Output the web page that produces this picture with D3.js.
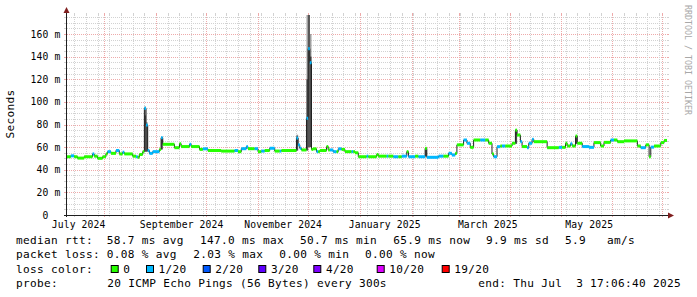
<!DOCTYPE html>
<html>
<head>
<meta charset="utf-8">
<script src="https://cdn.jsdelivr.net/npm/d3@7"></script>
<style>
body { margin: 0; background: #fff; }
svg text { font-family: "DejaVu Sans Mono", monospace; white-space: pre; }
</style>
</head>
<body>
<svg></svg>
<script>
var width = 697;
var height = 297;

// time range of the graph
var startTime = "2024-07-09T17:06:40";
var endTime = "2025-07-03T17:06:40";
var yMaxMs = 176.8;

// median rtt per step (ms) and loss class (index into lossColors)
var medianDays = [
  "2024-07-09","2024-07-12","2024-07-14","2024-07-16","2024-07-20","2024-07-25","2024-07-26","2024-07-28",
  "2024-07-31","2024-08-02","2024-08-03","2024-08-05","2024-08-08","2024-08-10","2024-08-12","2024-08-13",
  "2024-08-18","2024-08-20","2024-08-21","2024-08-22","2024-08-24","2024-08-25","2024-08-26","2024-08-27",
  "2024-08-28","2024-08-30","2024-09-03","2024-09-04","2024-09-05","2024-09-12","2024-09-15","2024-09-16",
  "2024-09-21","2024-09-22","2024-09-27","2024-09-29","2024-10-02","2024-10-10","2024-10-18","2024-10-20",
  "2024-10-22","2024-10-25","2024-10-26","2024-10-30","2024-11-01","2024-11-03","2024-11-05","2024-11-08",
  "2024-11-11","2024-11-14","2024-11-15","2024-11-24","2024-11-25","2024-11-26","2024-11-27","2024-11-30",
  "2024-12-01","2024-12-02","2024-12-03","2024-12-04","2024-12-06","2024-12-07","2024-12-08","2024-12-12",
  "2024-12-13","2024-12-14","2024-12-16","2024-12-18","2024-12-19","2024-12-21","2024-12-23","2024-12-27",
  "2024-12-28","2024-12-29","2024-12-31","2025-01-05","2025-01-06","2025-01-11","2025-01-12","2025-01-17",
  "2025-01-18","2025-01-21","2025-01-24","2025-01-26","2025-01-29","2025-01-30","2025-02-03","2025-02-05",
  "2025-02-09","2025-02-10","2025-02-17","2025-02-20","2025-02-23","2025-02-25","2025-02-27","2025-02-28",
  "2025-03-04","2025-03-06","2025-03-08","2025-03-10","2025-03-14","2025-03-17","2025-03-19","2025-03-21",
  "2025-03-22","2025-03-24","2025-03-26","2025-03-27","2025-03-29","2025-04-02","2025-04-04","2025-04-05",
  "2025-04-07","2025-04-08","2025-04-11","2025-04-12","2025-04-14","2025-04-15","2025-04-23","2025-04-30",
  "2025-05-02","2025-05-04","2025-05-05","2025-05-07","2025-05-08","2025-05-10","2025-05-11","2025-05-14",
  "2025-05-18","2025-05-21","2025-05-25","2025-05-27","2025-05-31","2025-06-02","2025-06-04","2025-06-08",
  "2025-06-16","2025-06-18","2025-06-21","2025-06-23","2025-06-24","2025-06-26","2025-06-30","2025-07-02"
];
var medianMs = [
  51.5,52.3,51.5,50.3,51.5,54,52,50.1,
  51.5,54,56,54.5,57,54,55.5,54,
  52,51.5,51,53.5,56,94.3,79.5,57,
  54.5,56,58,68.3,62.5,59.5,63,60.5,
  62.5,60.5,58,58.5,57,56.5,57,56,
  58.6,60.4,58.6,58.6,56,56.5,57,59,
  56.5,56.5,57,68,62,59,57.5,85.5,
  147,134.6,58,58.5,56,56,57,60.5,
  57.5,57.5,56,56,58.5,58,56,56,
  56,55,51.5,52,51.5,53.5,52,52,
  52,51.5,51.5,52,56,51.5,52,51.5,
  58.9,51,52,52,54.5,53,54.5,62,
  66.3,63.4,59.8,66.3,66.3,66.3,63.4,54,
  51.5,60.4,61,61,61,63.4,75,70.7,
  64.8,60.5,59.5,63.4,66.9,64.8,59.5,59.8,
  59.8,63.4,61,63,61,69.8,63.4,60.5,
  59.8,64,61,64.2,66.3,66.3,64.8,65.5,
  61,59.5,62,51.5,60,61,64,65.9
];
var medianLoss = [
  0,1,0,0,0,1,0,0,
  0,0,1,0,1,0,1,0,
  0,1,0,0,0,1,1,1,
  1,1,0,1,0,0,0,0,
  1,0,0,1,0,0,1,0,
  1,1,0,1,0,1,0,1,
  0,1,0,1,1,1,0,1,
  1,1,0,0,1,0,0,0,
  0,1,1,0,1,0,0,1,
  0,0,0,1,0,0,0,1,
  0,1,0,1,0,1,0,1,
  0,1,1,0,1,1,0,0,
  1,1,0,0,1,0,0,0,
  1,1,0,1,0,0,0,0,
  1,0,1,1,1,0,0,1,
  0,0,0,1,0,0,0,1,
  1,0,0,0,1,0,0,0,
  0,1,0,0,1,0,0,0
];

// smoke (spread of the pings) on the days where it is visible
var smokeDays = ["2024-08-25","2024-08-26","2024-09-04","2024-11-24","2024-11-30","2024-12-01","2024-12-02","2025-02-09","2025-04-04","2025-05-10"];
var smokeLo = [56, 56, 58, 57, 57, 60, 60, 52, 63, 63];
var smokeHi = [96, 82, 69, 71, 176.8, 176.8, 160, 59, 76, 70];
var smokeCore = [88, 80, 68, 70, 120, 176.8, 140, 58, 75, 69];

var lossLabels = ["0", "1/20", "2/20", "3/20", "4/20", "10/20", "19/20"];
var lossColors = ["#26ff00", "#00b8ff", "#0059ff", "#5e00ff", "#7e00ff", "#dd00ff", "#ff0000"];

var yTicks = [0, 20, 40, 60, 80, 100, 120, 140, 160];
var yTickLabels = ["0  ", "20 m", "40 m", "60 m", "80 m", "100 m", "120 m", "140 m", "160 m"];
var xLabels = ["July 2024", "September 2024", "November 2024", "January 2025", "March 2025", "May 2025"];
var xLabelDays = ["2024-07-16T16:00", "2024-09-16T08:00", "2024-11-16T02:00", "2025-01-15T20:00", "2025-03-18T12:00", "2025-05-18T04:00"];

var rttText = ["median rtt:  58.7 ms avg", "147.0 ms max", "50.7 ms min", "65.9 ms now", "9.9 ms sd", "5.9   am/s"];
var lossText = ["packet loss: 0.08 % avg", "2.03 % max", "0.00 % min", "0.00 % now"];
var probeText = ["probe:", "20 ICMP Echo Pings (56 Bytes) every 300s", "end: Thu Jul  3 17:06:40 2025"];

// layout
var plotLeft = 67, plotRight = 667, plotTop = 15, plotBottom = 215;
var rttX = [16, 200, 300, 393.3, 486, 565];
var lossX = [16, 193.3, 279.3, 365];
var boxX = [110.7, 146, 202.7, 258.3, 313.3, 376.7, 441.7];
var probeX = [16, 107.3, 478.3];

var parseDay = d3.utcParse("%Y-%m-%d");
var parseTime = d3.utcParse("%Y-%m-%dT%H:%M:%S");
var parseHour = d3.utcParse("%Y-%m-%dT%H:%M");

var svg = d3.select("svg")
    .attr("width", width)
    .attr("height", height);

svg.append("rect").attr("width", width).attr("height", height).attr("fill", "#fff");

var t0 = parseTime(startTime), t1 = parseTime(endTime);
var x = d3.scaleUtc().domain([t0, t1]).range([plotLeft, plotRight]);
var y = d3.scaleLinear().domain([0, yMaxMs]).range([plotBottom, plotTop]);

var gridCol = "#d2d2d2";
var mgridCol = "#eeaaaa";

// grid: minor horizontal every 5 ms, major every 20 ms
var grid = svg.append("g");
d3.range(5, yMaxMs, 5).forEach(function (v) {
    var yy = Math.round(y(v)) + 0.5;
    var major = v % 20 === 0;
    var c = major ? mgridCol : gridCol;
    grid.append("line").attr("x1", plotLeft - 3).attr("x2", plotLeft).attr("y1", yy).attr("y2", yy)
        .attr("stroke", c);
    grid.append("line").attr("x1", plotRight).attr("x2", plotRight + 2).attr("y1", yy).attr("y2", yy)
        .attr("stroke", c);
    grid.append("line").attr("x1", plotLeft).attr("x2", plotRight).attr("y1", yy).attr("y2", yy)
        .attr("stroke", c).attr("stroke-dasharray", "1,1");
});

// vertical grid: weeks (sundays) and months
var months = d3.utcMonth.range(t0, t1);
var weeks = d3.utcSunday.range(t0, t1).filter(function (d) {
    return d.getUTCDate() !== 1;
});
function vline(d, c) {
    var xx = Math.round(x(d)) + 0.5;
    grid.append("line").attr("x1", xx).attr("x2", xx).attr("y1", plotTop).attr("y2", plotBottom)
        .attr("stroke", c).attr("stroke-dasharray", "1,1");
    grid.append("line").attr("x1", xx).attr("x2", xx).attr("y1", plotBottom).attr("y2", plotBottom + 2)
        .attr("stroke", c);
    grid.append("line").attr("x1", xx).attr("x2", xx).attr("y1", plotTop - 2).attr("y2", plotTop)
        .attr("stroke", c);
}
weeks.forEach(function (d) { vline(d, gridCol); });
months.forEach(function (d) { vline(d, mgridCol); });

// plot layers
var plot = svg.append("g");
var oneDay = 86400000;

var smoke = smokeDays.map(function (d, i) {
    return { t: parseDay(d), lo: smokeLo[i], hi: smokeHi[i], core: smokeCore[i] };
});
function dayWidth(d) { return x(new Date(+d.t + oneDay)) - x(d.t); }
plot.selectAll("rect.smoke").data(smoke).enter().append("rect")
    .attr("class", "smoke")
    .attr("x", function (d) { return x(d.t); })
    .attr("width", dayWidth)
    .attr("y", function (d) { return y(d.hi); })
    .attr("height", function (d) { return y(d.lo) - y(d.hi); })
    .attr("fill", "#a0a0a0");
plot.selectAll("rect.core").data(smoke).enter().append("rect")
    .attr("class", "core")
    .attr("x", function (d) { return x(d.t); })
    .attr("width", dayWidth)
    .attr("y", function (d) { return y(d.core); })
    .attr("height", function (d) { return y(d.lo) - y(d.core); })
    .attr("fill", "#4a4a4a");

var med = medianDays.map(function (d, i) {
    var t = parseDay(d);
    if (t < t0) t = t0;
    var next = i + 1 < medianDays.length ? parseDay(medianDays[i + 1]) : t1;
    return { t: t, t2: next, v: medianMs[i], loss: medianLoss[i] };
});

var line = d3.line()
    .x(function (d) { return x(d.t); })
    .y(function (d) { return y(d.v); })
    .curve(d3.curveStepAfter);
plot.append("path")
    .datum(med.concat([{ t: t1, v: med[med.length - 1].v }]))
    .attr("d", line)
    .attr("fill", "none")
    .attr("stroke", "#202020")
    .attr("stroke-width", 1);

plot.selectAll("rect.med").data(med).enter().append("rect")
    .attr("class", "med")
    .attr("x", function (d) { return x(d.t); })
    .attr("width", function (d) { return x(d.t2) - x(d.t); })
    .attr("y", function (d) { return y(d.v) - 1.5; })
    .attr("height", 3)
    .attr("fill", function (d) { return lossColors[d.loss]; });

// axes
var axisCol = "#1f1f1f", arrowCol = "#801f1f";
svg.append("line").attr("x1", plotLeft - 0.5).attr("x2", plotLeft - 0.5).attr("y1", plotBottom + 2).attr("y2", 10)
    .attr("stroke", axisCol);
svg.append("line").attr("x1", plotLeft - 3).attr("x2", plotRight + 4).attr("y1", plotBottom + 0.5).attr("y2", plotBottom + 0.5)
    .attr("stroke", axisCol);
svg.append("path").attr("d", "M63.5,13L69.5,13L66.5,7Z").attr("fill", arrowCol);
svg.append("path").attr("d", "M668,212.5L668,218.5L674,215.5Z").attr("fill", arrowCol);

// tick labels
var axisFont = { size: "9.7px", ls: "0.15px" };
svg.selectAll("text.ylab").data(yTicks).enter().append("text")
    .attr("class", "ylab")
    .attr("x", 60.5)
    .attr("y", function (d) { return y(d) + 3.6; })
    .attr("text-anchor", "end")
    .attr("font-size", axisFont.size)
    .attr("letter-spacing", axisFont.ls)
    .text(function (d, i) { return yTickLabels[i]; });

svg.selectAll("text.xlab").data(xLabels).enter().append("text")
    .attr("class", "xlab")
    .attr("x", function (d, i) { return x(parseHour(xLabelDays[i])); })
    .attr("y", 228)
    .attr("text-anchor", "middle")
    .attr("font-size", axisFont.size)
    .attr("letter-spacing", axisFont.ls)
    .text(function (d) { return d; });

svg.append("text")
    .attr("transform", "translate(14,114) rotate(-90)")
    .attr("text-anchor", "middle")
    .attr("font-size", "11.1px")
    .attr("letter-spacing", "0.31px")
    .text("Seconds");

svg.append("text")
    .attr("transform", "translate(685,5) rotate(90)")
    .attr("font-size", "8.3px")
    .attr("fill", "#a8a8a8")
    .text("RRDTOOL / TOBI OETIKER");

// legend
function legendRow(texts, xs, yy) {
    texts.forEach(function (t, i) {
        svg.append("text")
            .attr("x", xs[i]).attr("y", yy)
            .attr("font-size", "11.1px")
            .attr("letter-spacing", "0.31px")
            .text(t);
    });
}
legendRow(rttText, rttX, 244);
legendRow(lossText, lossX, 258.3);
legendRow(["loss color:"], [16], 272.5);
lossLabels.forEach(function (l, i) {
    svg.append("rect")
        .attr("x", boxX[i] + 0.5).attr("y", 265.5)
        .attr("width", 7).attr("height", 7)
        .attr("fill", lossColors[i])
        .attr("stroke", "#000");
    svg.append("text")
        .attr("x", boxX[i] + 12.6).attr("y", 272.5)
        .attr("font-size", "11.1px")
        .attr("letter-spacing", "0.31px")
        .text(l);
});
legendRow(probeText, probeX, 287);
</script>
</body>
</html>
